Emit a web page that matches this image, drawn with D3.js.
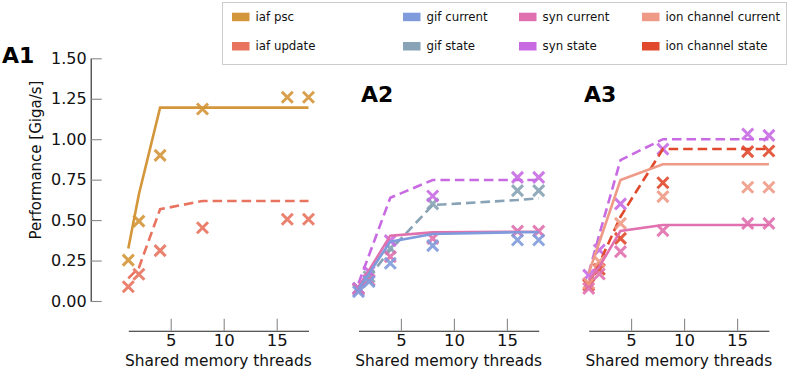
<!DOCTYPE html>
<html>
<head>
<meta charset="utf-8">
<script src="https://cdn.jsdelivr.net/npm/d3@7"></script>
<style>
  body { margin: 0; background: #fff; }
  text { font-family: "DejaVu Sans", sans-serif; }
</style>
</head>
<body>
<svg id="chart" width="789" height="370"></svg>
<script>
var threads = [1, 2, 4, 8, 16, 18];
var yTicks = [0, 0.25, 0.5, 0.75, 1.0, 1.25, 1.5];
var xTicks = [5, 10, 15];
var panelNames = ["A1", "A2", "A3"];

// A1
var iafPscFit = [0.325, 0.66, 1.195, 1.195, 1.195, 1.195];
var iafPscMeas = [0.253, 0.494, 0.90, 1.187, 1.259, 1.259];
var iafUpdateFit = [0.14, 0.206, 0.567, 0.618, 0.618, 0.618];
var iafUpdateMeas = [0.088, 0.165, 0.311, 0.453, 0.505, 0.505];

// A2
var gifCurrentFit = [0.078, 0.171, 0.367, 0.414, 0.425, 0.425];
var gifCurrentMeas = [0.058, 0.12, 0.233, 0.342, 0.377, 0.377];
var gifStateFit = [0.078, 0.15, 0.315, 0.593, 0.624, 0.635];
var gifStateMeas = [0.078, 0.15, 0.326, 0.60, 0.682, 0.682];
var synCurrentFitA2 = [0.088, 0.19, 0.404, 0.424, 0.428, 0.428];
var synCurrentMeasA2 = [0.07, 0.13, 0.274, 0.387, 0.432, 0.432];
var synStateFitA2 = [0.109, 0.285, 0.638, 0.748, 0.748, 0.748];
var synStateMeasA2 = [0.078, 0.18, 0.373, 0.649, 0.764, 0.764];

// A3
var synCurrentFitA3 = [0.13, 0.212, 0.433, 0.47, 0.47, 0.47];
var synCurrentMeasA3 = [0.078, 0.167, 0.305, 0.435, 0.48, 0.48];
var synStateFitA3 = [0.171, 0.41, 0.871, 1.0, 1.0, 1.0];
var synStateMeasA3 = [0.16, 0.315, 0.60, 0.939, 1.032, 1.024];
var ionCurrentFit = [0.171, 0.363, 0.748, 0.845, 0.845, 0.845];
var ionCurrentMeas = [0.109, 0.243, 0.48, 0.645, 0.703, 0.703];
var ionStateFit = [0.109, 0.233, 0.521, 0.939, 0.939, 0.939];
var ionStateMeas = [0.099, 0.196, 0.387, 0.731, 0.923, 0.927];

var colors = {
  "iaf psc": "#d4963a",
  "iaf update": "#e8735f",
  "gif current": "#7f9bdc",
  "gif state": "#87a3b5",
  "syn current": "#e070ae",
  "syn state": "#c86be3",
  "ion channel current": "#ee9a86",
  "ion channel state": "#e0492c"
};
var dashedNames = ["iaf update", "gif state", "syn state", "ion channel state"];

var legendColumns = [
  ["iaf psc", "iaf update"],
  ["gif current", "gif state"],
  ["syn current", "syn state"],
  ["ion channel current", "ion channel state"]
];

var series = [
  {panel: 0, name: "iaf psc", fit: iafPscFit, meas: iafPscMeas},
  {panel: 0, name: "iaf update", fit: iafUpdateFit, meas: iafUpdateMeas},
  {panel: 1, name: "gif state", fit: gifStateFit, meas: gifStateMeas},
  {panel: 1, name: "syn state", fit: synStateFitA2, meas: synStateMeasA2},
  {panel: 1, name: "syn current", fit: synCurrentFitA2, meas: synCurrentMeasA2},
  {panel: 1, name: "gif current", fit: gifCurrentFit, meas: gifCurrentMeas},
  {panel: 2, name: "syn state", fit: synStateFitA3, meas: synStateMeasA3},
  {panel: 2, name: "ion channel state", fit: ionStateFit, meas: ionStateMeas},
  {panel: 2, name: "ion channel current", fit: ionCurrentFit, meas: ionCurrentMeas},
  {panel: 2, name: "syn current", fit: synCurrentFitA3, meas: synCurrentMeasA3}
];

var svg = d3.select("#chart");
var panelLeft = [128.3, 358.5, 588.7],
    panelWidth = 180.2,
    yTop = 58.3, yBottom = 301, xAxisY = 330.7;

var y = d3.scaleLinear().domain([0, 1.5]).range([yBottom, yTop]);
var xs = panelLeft.map(function(l) {
  return d3.scaleLinear().domain([1, 18]).range([l, l + panelWidth]);
});

function styleAxis(g) {
  g.select(".domain").attr("stroke", "#222").attr("stroke-width", 1.1);
  g.selectAll(".tick line").attr("stroke", "#888").attr("stroke-width", 1.1);
  g.selectAll(".tick text").attr("fill", "#111").attr("font-family", "DejaVu Sans, sans-serif");
}

// y axis (A1 only)
svg.append("g")
    .attr("transform", "translate(90.7,0)")
    .call(d3.axisLeft(y).tickValues(yTicks).tickFormat(d3.format(".2f"))
      .tickSizeInner(-11).tickSizeOuter(0).tickPadding(4))
    .call(styleAxis)
    .call(function(g) { g.selectAll(".tick text").attr("font-size", 16); });

svg.append("text")
    .attr("transform", "translate(41,160) rotate(-90)")
    .attr("text-anchor", "middle")
    .attr("font-size", 15)
    .attr("fill", "#111")
    .text("Performance [Giga/s]");

// x axes
xs.forEach(function(x, i) {
  svg.append("g")
      .attr("transform", "translate(0," + xAxisY + ")")
      .call(d3.axisBottom(x).tickValues(xTicks)
        .tickSizeInner(-12).tickSizeOuter(0).tickPadding(3.5))
      .call(styleAxis)
      .call(function(g) { g.selectAll(".tick text").attr("font-size", 16.5); });

  svg.append("text")
      .attr("x", (x.range()[0] + x.range()[1]) / 2)
      .attr("y", 366)
      .attr("text-anchor", "middle")
      .attr("font-size", 15.4)
      .attr("fill", "#111")
      .text("Shared memory threads");
});

// panel titles
var titlePos = [[2, 62.5], [361, 102.3], [584, 102.3]];
panelNames.forEach(function(name, i) {
  svg.append("text")
      .attr("x", titlePos[i][0])
      .attr("y", titlePos[i][1])
      .attr("font-size", 22)
      .attr("font-weight", "bold")
      .attr("fill", "#000")
      .text(name);
});

// series
var xMark = "M-5.5,-5.5L5.5,5.5M-5.5,5.5L5.5,-5.5";
series.forEach(function(s) {
  var x = xs[s.panel],
      c = colors[s.name],
      dashed = dashedNames.indexOf(s.name) >= 0;
  var line = d3.line()
      .x(function(d, i) { return x(threads[i]); })
      .y(function(d) { return y(d); });

  var g = svg.append("g").attr("class", "series");
  g.append("path")
      .datum(s.fit)
      .attr("d", line)
      .attr("fill", "none")
      .attr("stroke", c)
      .attr("stroke-width", 2.6)
      .attr("stroke-dasharray", dashed ? "9.5,5" : null);

  g.selectAll("path.mark")
      .data(s.meas)
      .enter().append("path")
      .attr("class", "mark")
      .attr("d", xMark)
      .attr("transform", function(d, i) {
        return "translate(" + x(threads[i]) + "," + y(d) + ")";
      })
      .attr("fill", "none")
      .attr("stroke", c)
      .attr("stroke-width", 3)
      .attr("opacity", 0.9);
});

// legend
var legend = svg.append("g").attr("class", "legend");
legend.append("rect")
    .attr("x", 222.5).attr("y", 2.5)
    .attr("width", 564).attr("height", 62)
    .attr("fill", "#fff")
    .attr("stroke", "#ccc")
    .attr("stroke-width", 1);

var colX = [232, 403, 519, 642], rowY = [12.7, 42];
legendColumns.forEach(function(col, ci) {
  col.forEach(function(name, ri) {
    legend.append("rect")
        .attr("x", colX[ci]).attr("y", rowY[ri])
        .attr("width", 17.5).attr("height", 8.5)
        .attr("fill", colors[name]);
    legend.append("text")
        .attr("x", colX[ci] + 23.5)
        .attr("y", rowY[ri] + 4.25)
        .attr("dy", "0.35em")
        .attr("font-size", 11.8)
        .attr("fill", "#111")
        .text(name);
  });
});
</script>
</body>
</html>
